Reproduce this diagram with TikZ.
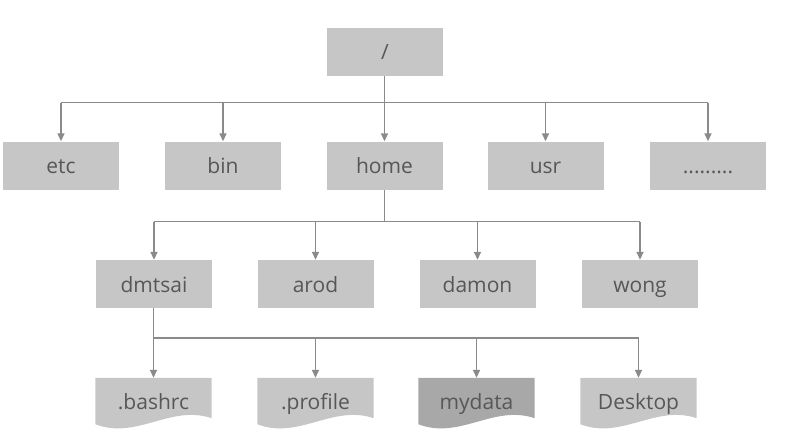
\documentclass[tikz,border=0pt]{standalone}
\usepackage{fontspec}
\setmainfont{Open Sans}
\usetikzlibrary{arrows.meta,calc}
\definecolor{boxgray}{HTML}{C6C6C6}
\definecolor{darkgray2}{HTML}{A8A8A8}
\definecolor{txtgray}{HTML}{575757}
\definecolor{linegray}{HTML}{8A8A8A}
\tikzset{
  dirbox/.style={fill=boxgray, minimum width=116pt, minimum height=48pt, inner sep=0pt,
    text height=16pt, text depth=0pt,
    font=\fontsize{21}{24}\selectfont, text=txtgray},
  docbox/.style={minimum width=116pt, minimum height=44pt, inner sep=0pt,
    text height=19pt, text depth=0pt,
    font=\fontsize{21}{24}\selectfont, text=txtgray},
  bus/.style={draw=linegray, line width=1.6pt},
  arr/.style={draw=linegray, line width=1.6pt, -{Triangle[width=7pt,length=8pt]}},
}
\newcommand\docshape[2]{%
  \fill[#2] (#1.north west) -- (#1.north east) -- ($(#1.south east)+(0,-4)$)
    .. controls ($(#1.south)+(17,-18)$) and ($(#1.south)+(-17,18)$) .. ($(#1.south west)+(0,2)$) -- cycle;}
\begin{document}
\begin{tikzpicture}[x=1pt,y=-1pt]
\useasboundingbox (0,0) rectangle (794,440);
% root
\node[dirbox] (root) at (385,51.5) {/};
% level 1
\node[dirbox] (etc)  at (61,165.5) {etc};
\node[dirbox] (bin)  at (223,165.5) {bin};
\node[dirbox] (home) at (384.5,165.5) {home};
\node[dirbox] (usr)  at (545.5,165.5) {usr};
\node[dirbox] (dots) at (708,165.5) {.........};
% level 2
\node[dirbox] (dmtsai) at (154,284) {dmtsai};
\node[dirbox] (arod)   at (315.5,284) {arod};
\node[dirbox] (damon)  at (477.5,284) {damon};
\node[dirbox] (wong)   at (640,284) {wong};
% level 3 (documents)
\node[docbox] (bashrc)  at (153.5,400) {};
\node[docbox] (profile) at (315.5,400) {};
\node[docbox] (mydata)  at (476.5,400) {};
\node[docbox] (desktop) at (638.5,400) {};
\docshape{bashrc}{boxgray}
\docshape{profile}{boxgray}
\docshape{mydata}{darkgray2}
\docshape{desktop}{boxgray}
\node[docbox] at (bashrc)  {.bashrc};
\node[docbox] at (profile) {.profile};
\node[docbox] at (mydata)  {mydata};
\node[docbox] at (desktop) {Desktop};
% buses
\coordinate (b1) at (0,102.5);
\coordinate (b2) at (0,221.5);
\coordinate (b3) at (0,338);
\draw[bus] (root.south -| home.north) -- (home.north |- b1);
\draw[bus] (etc.north |- b1) -- (dots.north |- b1);
\foreach \n in {etc,bin,home,usr,dots}{\draw[arr] (\n.north |- b1) -- (\n.north);}
\draw[bus] (home.south) -- (home.south |- b2);
\draw[bus] (dmtsai.north |- b2) -- (wong.north |- b2);
\foreach \n in {dmtsai,arod,damon,wong}{\draw[arr] (\n.north |- b2) -- (\n.north);}
\draw[bus] (bashrc.north |- dmtsai.south) -- (bashrc.north |- b3);
\draw[bus] (bashrc.north |- b3) -- (desktop.north |- b3);
\foreach \n in {bashrc,profile,mydata,desktop}{\draw[arr] (\n.north |- b3) -- (\n.north);}
\end{tikzpicture}
\end{document}
